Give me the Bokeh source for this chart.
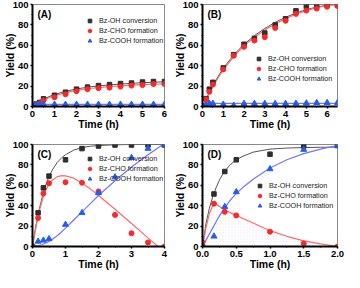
from bokeh.plotting import figure
from bokeh.layouts import column, row
from bokeh.models import (Range1d, Legend, LegendItem, Label, FixedTicker,
                          PrintfTickFormatter)
from bokeh.embed import file_html
from bokeh.resources import INLINE

# ---------------- data ----------------
y_ticks = [0, 20, 40, 60, 80, 100]
y_minor = [10, 30, 50, 70, 90]
series_names = ["Bz-OH conversion", "Bz-CHO formation", "Bz-COOH formation"]

# Panel A
tA = [0, 0.17, 0.33, 0.5, 1, 1.5, 2, 2.5, 3, 3.5, 4, 4.5, 5, 5.5, 6]
A_oh = [0, 2.5, 4, 7.5, 11, 14, 17, 19, 20.5, 21.5, 22.5, 23, 24, 24.5, 24.5]
A_cho = [0, 2, 3, 6, 9, 12, 15, 17, 18, 18.5, 19.5, 20.5, 21, 22, 22]
A_cooh = [0, 2, 2, 2, 2, 2, 2, 2, 2, 2, 2, 2, 2, 2, 2]
fitA_t = [0, 0.25, 0.5, 0.75, 1, 1.5, 2, 2.5, 3, 3.5, 4, 4.5, 5, 5.5, 6]
fitA_oh = [0, 4, 7.2, 9.7, 11.7, 14.9, 17.2, 18.9, 20.2, 21.2, 22.0, 22.7, 23.3, 23.8, 24.2]
fitA_cho = [0, 3.2, 6.2, 8.6, 10.6, 13.6, 15.8, 17.4, 18.6, 19.6, 20.3, 20.9, 21.4, 21.8, 22.1]
fitA_cooh_t = [0, 6]
fitA_cooh = [2, 2]
A_xticks = [0, 1, 2, 3, 4, 5, 6]
A_xminor = [0.5, 1.5, 2.5, 3.5, 4.5, 5.5]

# Panel B
tB = [0, 0.17, 0.33, 0.5, 1, 1.5, 2, 2.5, 3, 3.5, 4, 4.5, 5, 5.5, 6, 6.5]
B_oh = [0, 7.7, 17, 23.7, 37.8, 50.8, 61, 66.8, 72, 80, 86, 93.8, 98, 99, 99.4, 99.4]
B_cho = [0, 6.8, 14.5, 21.5, 36.3, 49.8, 58.5, 64.6, 68, 77, 84, 90.8, 94, 96, 97.8, 98.5]
B_cooh = [0, 1.2, 3, 3, 2, 1, 2.8, 2.8, 2.8, 2.8, 2.8, 3, 3.2, 3.7, 3.7, 3.7]
fitB_t = [0, 0.25, 0.5, 0.75, 1, 1.5, 2, 2.5, 3, 3.5, 4, 4.5, 5, 5.5, 6, 6.5]
fitB_oh = [0, 10.5, 20.5, 29.5, 37.5, 50.5, 61, 69.5, 76.5, 82.5, 87.5, 91.5, 95, 97.5, 99.3, 100]
fitB_cho = [0, 10, 19.5, 28, 36, 49, 59.5, 68, 75, 81, 86, 90.5, 94, 97, 99, 100]
fitB_cooh_t = [0, 6.5]
fitB_cooh = [3, 3]
B_xticks = [0, 1, 2, 3, 4, 5, 6]
B_xminor = [0.5, 1.5, 2.5, 3.5, 4.5, 5.5]

# Panel C
tC = [0, 0.17, 0.33, 0.5, 1, 1.5, 2, 2.5, 3, 3.5, 4]
C_oh = [0, 33, 57.5, 69, 85, 96, 98.5, 99.5, 99.5, 99.5, 99.5]
C_cho = [0, 28, 52, 62, 63, 62.5, 54, 31, 13, 4, 0]
C_cooh = [0, 5, 6, 7.5, 21.5, 33, 52.5, 68, 87, 96, 100]
fitC_t = [0, 0.1, 0.2, 0.3, 0.4, 0.5, 0.6, 0.75, 0.9, 1, 1.25, 1.5, 1.75, 2, 2.5, 3, 3.5, 4]
fitC_oh = [0, 20, 36, 49, 60, 68.5, 75, 82.5, 87.5, 90, 94.5, 97, 98.3, 99, 99.7, 100, 100, 100]
fitC_cooh = [0, 0.5, 1, 2, 3.5, 5, 7, 10.5, 15, 18, 26, 34, 42, 50, 64.5, 78, 90, 101]
fitC_cho_t = [0, 0.1, 0.2, 0.3, 0.4, 0.5, 0.6, 0.75, 0.9, 1, 1.25, 1.5, 1.75, 2, 2.5, 3, 3.5, 3.8]
fitC_cho = [0, 18, 34, 46, 55, 61, 65, 68.5, 69.5, 69.2, 67, 62, 56.5, 50, 36.5, 22.5, 8.5, 0]
C_xticks = [0, 1, 2, 3, 4]
C_xminor = [0.5, 1.5, 2.5, 3.5]

# Panel D
tD = [0, 0.17, 0.33, 0.5, 1, 1.5, 2]
D_oh = [0, 51.5, 73.5, 85, 90.5, 98.5, 99]
D_cho = [4, 42, 34, 30.5, 14.5, 3, 0]
D_cooh = [0, 10, 39, 53.5, 76, 95, 99]
fitD_t = [0, 0.05, 0.1, 0.15, 0.2, 0.25, 0.3, 0.4, 0.5, 0.6, 0.75, 1, 1.25, 1.5, 1.75, 2]
fitD_oh = [0, 22, 37, 48.5, 57.5, 65, 71, 79.5, 85, 88.5, 92.5, 95.5, 96.5, 97, 97.3, 97.5]
fitD_cho = [0, 18, 32, 40, 41.5, 39.5, 37, 33.5, 30.5, 27.5, 23, 15.5, 10, 5.5, 2.5, 0]
fitD_cooh = [0, 6, 12, 18, 24, 30, 35, 44.5, 52, 58, 66, 77, 85, 91, 95.5, 99]
D_xticks = [0, 0.5, 1.0, 1.5, 2.0]
D_xminor = [0.25, 0.75, 1.25, 1.75]

# ---------------- style ----------------
FONT = "Liberation Sans"
C_BLACK_M, C_BLACK_L = "#2e2e2e", "#555555"
C_RED_M, C_RED_L = "#ff2626", "#ff6a6a"
C_BLUE_M, C_BLUE_L = "#1f5ff0", "#7474ff"
LEG_ROW, LEG_GAP = 9, 1


def make_panel(tag, xmax, t, oh, cho, cooh, f_oh_t, f_oh, f_cho_t, f_cho,
               f_cooh_t, f_cooh, xticks, xminor, fmt, width, height,
               bl, br, bt, bb, leg_x, leg_top, hatch=False):
    p = figure(width=width, height=height, x_range=Range1d(0, xmax),
               y_range=Range1d(0, 100), output_backend="svg",
               toolbar_location=None, min_border_left=bl, min_border_right=br,
               min_border_top=bt, min_border_bottom=bb)
    p.grid.visible = False
    p.outline_line_color = "#8a8a8a"
    p.outline_line_width = 1
    p.background_fill_color = "white"
    p.border_fill_color = "white"

    p.xaxis.ticker = FixedTicker(ticks=xticks, minor_ticks=xminor)
    p.yaxis.ticker = FixedTicker(ticks=y_ticks, minor_ticks=y_minor)
    if fmt:
        p.xaxis.formatter = PrintfTickFormatter(format=fmt)
    for ax in (p.xaxis[0], p.yaxis[0]):
        ax.axis_line_width = 2
        ax.axis_line_color = "black"
        ax.major_tick_line_width = 1.5
        ax.major_tick_out = 2
        ax.major_tick_in = 0
        ax.minor_tick_out = 1
        ax.minor_tick_in = 0
        ax.minor_tick_line_width = 1
        ax.major_label_standoff = 2
        ax.major_label_text_font = FONT
        ax.major_label_text_font_style = "bold"
        ax.major_label_text_font_size = "9.5px"
        ax.major_label_text_color = "black"
        ax.axis_label_text_font = FONT
        ax.axis_label_text_font_style = "bold"
        ax.axis_label_text_font_size = "10.5px"
        ax.axis_label_text_color = "black"
    p.xaxis.axis_label = "Time (h)"
    p.xaxis.axis_label_standoff = -2
    p.yaxis.axis_label = "Yield (%)"
    p.yaxis.axis_label_standoff = -6

    p.add_layout(Label(x=0, y=100, x_offset=5, y_offset=-4, text=tag,
                       text_baseline="top", text_align="left", text_font=FONT,
                       text_font_style="bold", text_font_size="10px",
                       text_color="black"))

    if hatch:
        p.varea(x=f_cho_t, y1=0, y2=f_cho, fill_alpha=0,
                hatch_pattern="dot", hatch_color="#d4d4e4", hatch_scale=3,
                hatch_alpha=0.5)

    p.line(f_oh_t, f_oh, line_color=C_BLACK_L, line_width=1)
    p.line(f_cho_t, f_cho, line_color=C_RED_L, line_width=1.2)
    p.line(f_cooh_t, f_cooh, line_color=C_BLUE_L, line_width=1.2)

    r1 = p.scatter(t, oh, marker="square", size=4.5, fill_color=C_BLACK_M,
                   line_color=C_BLACK_M)
    r2 = p.scatter(t, cho, marker="circle", size=5, fill_color=C_RED_M,
                   line_color=C_RED_M)
    r3 = p.scatter(t, cooh, marker="triangle", size=6, fill_color=C_BLUE_M,
                   line_color=C_BLUE_M)

    fh = height - bt - bb
    leg_h = 3 * LEG_ROW + 2 * LEG_GAP
    leg = Legend(items=[LegendItem(label=series_names[0], renderers=[r1]),
                        LegendItem(label=series_names[1], renderers=[r2]),
                        LegendItem(label=series_names[2], renderers=[r3])],
                 location=(leg_x, fh - leg_top - leg_h),
                 border_line_color=None, background_fill_alpha=0,
                 padding=0, margin=0, spacing=LEG_GAP, glyph_width=9,
                 glyph_height=LEG_ROW, label_height=LEG_ROW, label_standoff=5,
                 label_text_font=FONT, label_text_font_size="7.2px",
                 label_text_color="#222222")
    p.add_layout(leg)
    return p


TOP_H, BOT_H = 132, 140
LW, RW = 170, 174
L_BL, L_BR, R_BL, R_BR = 27, 6, 30, 7

pA = make_panel("(A)", 6, tA, A_oh, A_cho, A_cooh, fitA_t, fitA_oh, fitA_t,
                fitA_cho, fitA_cooh_t, fitA_cooh, A_xticks, A_xminor, None,
                LW, TOP_H, L_BL, L_BR, 4, 25, 53, 13)
pB = make_panel("(B)", 6.5, tB, B_oh, B_cho, B_cooh, fitB_t, fitB_oh, fitB_t,
                fitB_cho, fitB_cooh_t, fitB_cooh, B_xticks, B_xminor, None,
                RW, TOP_H, R_BL, R_BR, 4, 25, 52, 51)
pC = make_panel("(C)", 4, tC, C_oh, C_cho, C_cooh, fitC_t, fitC_oh, fitC_cho_t,
                fitC_cho, fitC_t, fitC_cooh, C_xticks, C_xminor, None,
                LW, BOT_H, L_BL, L_BR, 12, 25, 53, 11)
pD = make_panel("(D)", 2, tD, D_oh, D_cho, D_cooh, fitD_t, fitD_oh, fitD_t,
                fitD_cho, fitD_t, fitD_cooh, D_xticks, D_xminor, "%.1f",
                RW, BOT_H, R_BL, R_BR, 12, 25, 53, 38, hatch=True)

layout = column(row(pA, pB), row(pC, pD))
open("out.html", "w").write(file_html(layout, INLINE))
